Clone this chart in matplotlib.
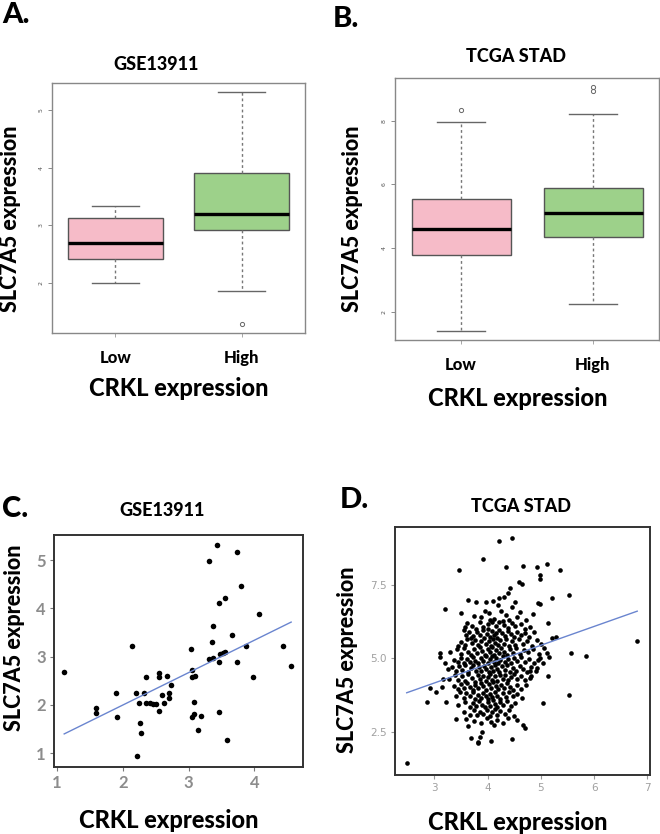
import numpy as np
import matplotlib.pyplot as plt

groups = ["Low", "High"]
gse_whislo = [2.00, 1.86]
gse_q1 = [2.42, 2.91]
gse_med = [2.70, 3.19]
gse_q3 = [3.12, 3.90]
gse_whishi = [3.33, 5.31]
gse_fliers = [[], [1.29]]

tcga_whislo = [1.41, 2.25]
tcga_q1 = [3.78, 4.34]
tcga_med = [4.59, 5.09]
tcga_q3 = [5.53, 5.90]
tcga_whishi = [7.97, 8.20]
tcga_fliers = [[8.34], [8.94, 9.06]]

# ---- GSE13911 scatter (panel C)
gse_pts = [
    (1.11, 2.68), (1.59, 1.94), (1.59, 1.82), (1.89, 2.25), (1.91, 1.74),
    (2.14, 3.22), (2.20, 2.24), (2.24, 2.03), (2.26, 1.63), (2.28, 1.42),
    (2.22, 0.94), (2.33, 2.24), (2.35, 2.03), (2.35, 2.58), (2.41, 2.04),
    (2.46, 2.01), (2.50, 2.01), (2.55, 1.88), (2.55, 2.65), (2.55, 2.58),
    (2.59, 2.20), (2.62, 2.04), (2.67, 2.59), (2.71, 2.24), (2.71, 2.15),
    (2.74, 2.42), (3.04, 3.16), (3.06, 2.72), (3.06, 2.58), (3.10, 2.60),
    (3.09, 2.06), (3.06, 1.75), (3.09, 1.81), (3.19, 1.76), (3.14, 1.47),
    (3.31, 4.98), (3.43, 5.31), (3.37, 3.63), (3.35, 3.30), (3.31, 2.94),
    (3.37, 2.98), (3.47, 4.10), (3.56, 4.22), (3.47, 2.89), (3.48, 3.05),
    (3.52, 3.08), (3.56, 3.10), (3.47, 1.86), (3.58, 1.27), (3.66, 3.44),
    (3.74, 5.17), (3.80, 4.46), (3.74, 2.89), (3.88, 3.22), (4.07, 3.89),
    (3.98, 2.57), (4.44, 3.22), (4.56, 2.80),
]
gse_fit = (0.65, 0.672)  # intercept, slope of the drawn line

# ---- TCGA STAD scatter (panel D)
tcga_pts = [
    # sparse points around the cloud
    (2.48, 1.42), (2.87, 3.52), (2.92, 3.98), (3.03, 3.86), (3.11, 5.17),
    (3.11, 5.03), (3.14, 4.03), (3.20, 6.67), (3.22, 3.52), (3.16, 4.28),
    (3.41, 2.92), (3.46, 7.99), (3.64, 2.69), (3.68, 2.27), (3.82, 2.10),
    (3.81, 2.16), (3.86, 2.33), (3.92, 8.38), (3.89, 2.50), (4.06, 2.19),
    (4.22, 8.98), (4.34, 8.12), (4.45, 9.09), (4.45, 2.24), (4.39, 7.22),
    (4.42, 7.39), (4.59, 7.58), (4.64, 7.53), (4.66, 8.15), (4.67, 2.73),
    (4.70, 2.61), (4.93, 8.12), (4.98, 7.84), (4.99, 7.69), (4.95, 6.88),
    (4.98, 6.85), (5.12, 8.22), (5.36, 8.01), (5.20, 7.05), (5.53, 7.16),
    (5.04, 3.49), (5.53, 3.75), (5.56, 5.17), (5.84, 5.08), (6.81, 5.57),
    (5.14, 6.19), (5.20, 5.68), (5.29, 5.72), (5.14, 4.38), (5.11, 5.17),
    (5.16, 5.03), (4.92, 4.66), (4.95, 4.94), (4.79, 4.55), (4.81, 4.38),
    # main cloud, top to bottom
    (3.64, 6.99), (3.79, 6.93), (3.97, 6.93), (4.10, 6.95), (4.22, 7.05),
    (4.30, 7.10), (4.45, 6.75), (4.20, 6.80), (4.52, 6.90),
    (3.50, 6.55), (3.75, 6.45), (3.88, 6.40), (4.03, 6.55), (4.12, 6.35),
    (4.25, 6.60), (4.35, 6.48), (4.40, 6.30), (4.55, 6.40), (4.72, 6.30),
    (4.85, 6.50), (3.95, 6.62), (4.60, 6.58),
    (3.58, 6.05), (3.62, 6.20), (3.70, 6.10), (3.85, 6.25), (3.92, 6.05),
    (4.00, 6.15), (4.08, 6.22), (4.15, 6.08), (4.22, 6.25), (4.30, 6.12),
    (4.38, 6.02), (4.45, 6.20), (4.52, 6.08), (4.62, 6.15), (4.70, 6.00),
    (4.80, 6.05), (4.05, 6.30), (4.28, 6.28), (3.78, 6.00),
    (3.55, 5.95), (3.60, 5.80), (3.65, 5.88), (3.72, 5.75), (3.80, 5.90),
    (3.86, 5.78), (3.92, 5.95), (3.98, 5.82), (4.04, 5.72), (4.08, 5.92),
    (4.12, 5.80), (4.18, 5.70), (4.22, 5.96), (4.27, 5.85), (4.33, 5.75),
    (4.38, 5.92), (4.44, 5.82), (4.50, 5.72), (4.56, 5.90), (4.62, 5.78),
    (4.70, 5.85), (4.78, 5.72), (4.88, 5.90), (3.68, 5.70), (4.00, 5.98),
    (4.15, 5.86),
    (3.50, 5.55), (3.58, 5.45), (3.62, 5.65), (3.70, 5.52), (3.76, 5.62),
    (3.82, 5.45), (3.88, 5.58), (3.93, 5.68), (3.97, 5.48), (4.02, 5.60),
    (4.06, 5.42), (4.10, 5.66), (4.14, 5.52), (4.20, 5.44), (4.24, 5.62),
    (4.30, 5.50), (4.35, 5.66), (4.40, 5.42), (4.46, 5.58), (4.52, 5.46),
    (4.58, 5.64), (4.66, 5.50), (4.74, 5.58), (4.84, 5.42), (4.92, 5.62),
    (5.00, 5.48), (3.45, 5.40),
    (3.30, 5.20), (3.42, 5.30), (3.50, 5.15), (3.56, 5.35), (3.63, 5.22),
    (3.68, 5.10), (3.74, 5.32), (3.80, 5.18), (3.85, 5.38), (3.90, 5.25),
    (3.95, 5.12), (4.00, 5.32), (4.04, 5.20), (4.08, 5.38), (4.12, 5.10),
    (4.16, 5.28), (4.21, 5.16), (4.26, 5.36), (4.31, 5.22), (4.36, 5.12),
    (4.42, 5.30), (4.48, 5.18), (4.54, 5.36), (4.60, 5.14), (4.68, 5.28),
    (4.76, 5.20), (4.86, 5.32), (4.96, 5.15), (5.06, 5.35),
    (3.20, 4.85), (3.36, 4.95), (3.44, 4.88), (3.50, 5.02), (3.56, 4.82),
    (3.62, 4.96), (3.67, 4.86), (3.72, 5.05), (3.77, 4.92), (3.82, 4.82),
    (3.87, 5.00), (3.92, 4.90), (3.96, 5.06), (4.00, 4.84), (4.04, 4.96),
    (4.08, 5.08), (4.12, 4.88), (4.16, 5.00), (4.20, 4.82), (4.24, 4.94),
    (4.28, 5.06), (4.33, 4.86), (4.38, 4.98), (4.44, 4.84), (4.50, 5.02),
    (4.56, 4.90), (4.62, 5.04), (4.70, 4.88), (4.78, 4.96), (4.88, 4.84),
    (4.98, 5.00), (5.04, 4.82),
    (3.25, 4.62), (3.33, 4.70), (3.40, 4.55), (3.46, 4.72), (3.52, 4.60),
    (3.58, 4.76), (3.63, 4.52), (3.68, 4.66), (3.73, 4.78), (3.78, 4.56),
    (3.83, 4.70), (3.88, 4.58), (3.93, 4.74), (3.97, 4.62), (4.02, 4.52),
    (4.06, 4.70), (4.10, 4.58), (4.14, 4.78), (4.18, 4.64), (4.22, 4.52),
    (4.27, 4.72), (4.32, 4.60), (4.37, 4.76), (4.42, 4.54), (4.48, 4.68),
    (4.54, 4.56), (4.60, 4.74), (4.66, 4.62), (4.74, 4.52), (4.82, 4.70),
    (4.90, 4.58),
    (3.28, 4.30), (3.38, 4.42), (3.45, 4.25), (3.52, 4.38), (3.58, 4.22),
    (3.64, 4.46), (3.70, 4.32), (3.76, 4.20), (3.81, 4.44), (3.86, 4.28),
    (3.91, 4.40), (3.96, 4.22), (4.01, 4.36), (4.05, 4.46), (4.09, 4.26),
    (4.13, 4.38), (4.18, 4.22), (4.23, 4.44), (4.28, 4.30), (4.33, 4.42),
    (4.38, 4.24), (4.44, 4.36), (4.50, 4.46), (4.56, 4.28), (4.63, 4.40),
    (4.70, 4.24), (4.80, 4.34),
    (3.36, 4.05), (3.44, 3.95), (3.50, 4.12), (3.56, 3.98), (3.62, 4.15),
    (3.67, 4.02), (3.72, 3.92), (3.77, 4.10), (3.82, 3.98), (3.87, 4.16),
    (3.92, 4.04), (3.97, 3.92), (4.02, 4.12), (4.06, 3.98), (4.10, 4.18),
    (4.15, 4.06), (4.20, 3.94), (4.25, 4.10), (4.30, 3.98), (4.36, 4.14),
    (4.42, 4.02), (4.48, 3.92), (4.55, 4.08), (4.62, 3.96), (4.72, 4.10),
    (3.40, 3.72), (3.48, 3.85), (3.55, 3.66), (3.60, 3.80), (3.66, 3.70),
    (3.72, 3.86), (3.77, 3.62), (3.82, 3.76), (3.87, 3.66), (3.92, 3.82),
    (3.96, 3.70), (4.01, 3.62), (4.05, 3.78), (4.09, 3.68), (4.13, 3.86),
    (4.18, 3.72), (4.23, 3.62), (4.28, 3.80), (4.34, 3.68), (4.40, 3.84),
    (4.47, 3.70), (4.55, 3.78), (4.64, 3.66),
    (3.45, 3.40), (3.58, 3.52), (3.66, 3.35), (3.72, 3.48), (3.78, 3.38),
    (3.84, 3.55), (3.90, 3.42), (3.95, 3.32), (4.00, 3.50), (4.05, 3.38),
    (4.10, 3.56), (4.14, 3.44), (4.18, 3.32), (4.23, 3.50), (4.29, 3.40),
    (4.36, 3.55), (4.43, 3.36), (4.52, 3.48),
    (3.55, 3.15), (3.66, 3.08), (3.74, 3.22), (3.80, 3.05), (3.86, 3.18),
    (3.92, 3.10), (3.98, 3.25), (4.04, 3.02), (4.08, 3.16), (4.13, 3.28),
    (4.18, 3.06), (4.24, 3.20), (4.32, 3.10), (4.40, 3.24), (4.50, 3.04),
    (3.60, 2.92), (3.75, 2.85), (3.88, 2.78), (3.98, 2.95), (4.06, 2.82),
    (4.12, 2.72), (4.18, 2.90), (4.28, 2.80), (4.38, 2.96), (4.55, 2.88),
]
tcga_fit = (2.23, 0.642)

W, H = 660, 834
lab_font = "Lato"
heavy = 900
pink = "#F6BBC8"
green = "#9DD18A"
fitblue = "#6A85CF"


def fx(px):
    return px / W


def fy(py):
    return 1 - py / H


def box_stats(whislo, q1, med, q3, whishi, fliers):
    out = []
    for i in range(len(groups)):
        out.append(dict(label=groups[i], whislo=whislo[i], q1=q1[i], med=med[i],
                        q3=q3[i], whishi=whishi[i], fliers=fliers[i]))
    return out


def draw_box(ax, stats, ylim, yticks):
    bp = ax.bxp(stats, positions=[1, 2], widths=0.75, patch_artist=True,
                boxprops=dict(edgecolor="#555555", linewidth=1.0),
                whiskerprops=dict(color="#777777", linestyle=(0, (2, 2)), linewidth=1.0),
                capprops=dict(color="#666666", linewidth=1.0),
                medianprops=dict(color="black", linewidth=2.4),
                flierprops=dict(marker="o", markersize=3, markerfacecolor="none",
                                markeredgecolor="#666666", markeredgewidth=0.7))
    for patch, c in zip(bp["boxes"], [pink, green]):
        patch.set_facecolor(c)
    for cap in bp["caps"]:
        xs = cap.get_xdata()
        mid = (xs[0] + xs[1]) / 2
        cap.set_xdata([mid - 0.185, mid + 0.185])
    ax.set_xlim(0.5, 2.5)
    ax.set_ylim(*ylim)
    ax.set_yticks(yticks)
    ax.set_yticklabels([str(t) for t in yticks], rotation=90, va="center",
                       fontsize=4.5, color="#555555")
    ax.set_xticks([1, 2])
    ax.set_xticklabels(groups, fontsize=12, fontweight=heavy, family=lab_font)
    ax.tick_params(axis="y", length=3, width=0.6, color="#777777", pad=3)
    ax.tick_params(axis="x", length=3, width=0.6, color="#999999", pad=9)
    for s in ax.spines.values():
        s.set_color("#888888")
        s.set_linewidth(1.0)


def draw_scatter(ax, pts, fit, size, xlim, ylim):
    pts = np.array(pts)
    ax.scatter(pts[:, 0], pts[:, 1], s=size, color="black", linewidths=0, zorder=3)
    xs = np.array([pts[:, 0].min(), pts[:, 0].max()])
    ax.plot(xs, fit[0] + fit[1] * xs, color=fitblue, linewidth=1.0, zorder=4)
    ax.set_xlim(*xlim)
    ax.set_ylim(*ylim)
    for s in ax.spines.values():
        s.set_color("#333333")
        s.set_linewidth(1.4)


fig = plt.figure(figsize=(6.6, 8.34), dpi=100)

# panel A
axA = fig.add_axes([fx(52), fy(333), fx(305) - fx(52), (333 - 83) / H])
draw_box(axA, box_stats(gse_whislo, gse_q1, gse_med, gse_q3, gse_whishi, gse_fliers),
         (1.13, 5.47), [2, 3, 4, 5])

# panel B
axB = fig.add_axes([fx(395), fy(340), fx(659) - fx(395), (340 - 78) / H])
draw_box(axB, box_stats(tcga_whislo, tcga_q1, tcga_med, tcga_q3, tcga_whishi, tcga_fliers),
         (1.12, 9.34), [2, 4, 6, 8])

# panel C
axC = fig.add_axes([fx(54), fy(767), fx(303) - fx(54), (767 - 535) / H])
draw_scatter(axC, gse_pts, gse_fit, 16, (0.955, 4.74), (0.71, 5.52))
axC.set_xticks([1, 2, 3, 4])
axC.set_yticks([1, 2, 3, 4, 5])
axC.tick_params(length=3, width=0.8, color="#777777", labelsize=12, labelcolor="#8c8c8c", pad=3)
for t in axC.get_xticklabels() + axC.get_yticklabels():
    t.set_fontweight("bold")
    t.set_family(lab_font)

# panel D
axD = fig.add_axes([fx(395), fy(775), fx(650) - fx(395), (775 - 527) / H])
draw_scatter(axD, tcga_pts, tcga_fit, 11, (2.26, 7.05), (1.02, 9.47))
axD.set_xticks([3, 4, 5, 6, 7])
axD.set_yticks([2.5, 5.0, 7.5])
axD.set_yticklabels(["2.5", "5.0", "7.5"])
axD.tick_params(length=3, width=0.8, color="#999999", labelsize=7.5, labelcolor="#a0a0a0", pad=3)

# panel letters
for x, y, s in [(2, 23, "A."), (333, 27, "B."), (2, 517, "C."), (340, 508, "D.")]:
    fig.text(fx(x), fy(y), s, fontsize=21, fontweight=heavy, family=lab_font, va="baseline")

# titles
for x, y, s in [(156, 65, "GSE13911"), (516, 57, "TCGA STAD"),
                (162, 511, "GSE13911"), (521, 506, "TCGA STAD")]:
    fig.text(fx(x), fy(y), s, fontsize=13, fontweight=heavy, family=lab_font,
             ha="center", va="center")

# axis labels
for x, y in [(179, 389), (518, 399), (169, 821), (518, 822)]:
    fig.text(fx(x), fy(y), "CRKL expression", fontsize=17, fontweight=heavy,
             family=lab_font, ha="center", va="center")
for x, y in [(11, 219), (353, 219), (15, 638), (348, 660)]:
    fig.text(fx(x), fy(y), "SLC7A5 expression", fontsize=15.5, fontweight=heavy,
             family=lab_font, ha="center", va="center", rotation=90)

fig.savefig("out.png", dpi=100)
